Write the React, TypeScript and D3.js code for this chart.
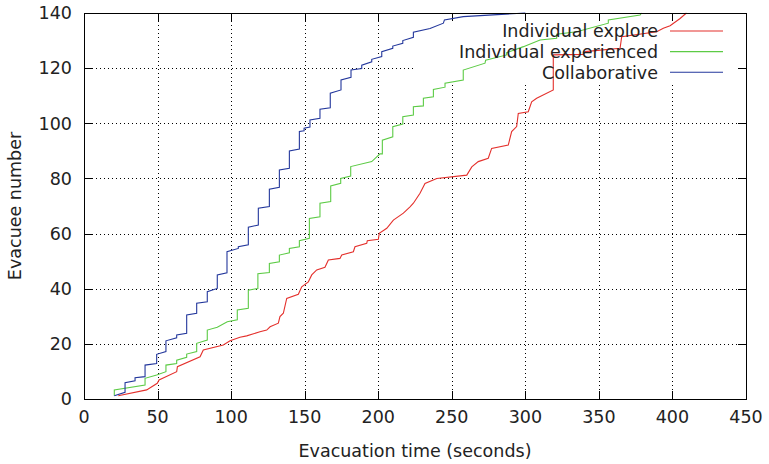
import React, { useEffect, useRef } from "react";
import * as d3 from "d3";

// [time (s), evacuees]
const exploreSeries: [number, number][] = [
  [23.3, 1.2], [42.6, 3.3], [49.8, 5.7], [51, 6.9], [63, 9.9], [63.5, 11.7],
  [78.9, 15.3], [81.1, 17.8], [94.7, 19.6], [99.3, 21.1], [106, 22.4],
  [110.6, 22.9], [119.6, 24.4], [124.2, 25], [126.5, 26.2], [132.1, 27.5],
  [133.2, 29.9], [135.5, 31.1], [137.8, 36.5], [145.7, 38], [148, 40.7],
  [152.5, 42.5], [154.8, 45], [158.2, 46.8], [163.8, 47.8], [166.1, 50.4],
  [174, 51], [175.2, 52.2], [183.1, 53.4], [184.2, 55.2], [192.2, 56.5],
  [192.6, 57.4], [200.1, 57.9], [200.7, 60.1], [205.8, 61.9], [210.3, 64.9],
  [217.1, 67.4], [221.6, 69.7], [223.9, 71], [228.4, 74.6], [231.8, 78.2],
  [239.8, 80], [260.2, 81.2], [263.6, 84.2], [268, 86.1], [274.8, 87.3],
  [277.1, 90.9], [288.4, 92.1], [290.7, 97], [294.1, 98.8], [295.2, 103.6],
  [302, 104.2], [304.3, 107.8], [307.7, 109.1], [319, 112.1], [319, 124.8],
  [339.5, 125], [340.6, 126], [364.4, 127.2], [365.5, 131.4], [389.3, 133.2],
  [393.8, 134.5], [398.4, 135.4], [405.2, 138], [409.5, 140],
];

const experiencedSeries: [number, number][] = [
  [20.6, 1.2], [20.6, 3.3], [41.5, 5.1], [41.5, 7.5], [49.4, 8.7], [55.7, 9.9],
  [55.7, 12.3], [63, 12.9], [63, 14.1], [69.8, 15.1], [69.8, 16.3], [76.6, 17.2],
  [76.6, 20.2], [83.8, 21.4], [83.8, 25], [90.6, 26], [97.4, 28], [104.2, 28.7],
  [104.2, 32.3], [111.7, 32.9], [111.7, 39.5], [118.2, 40.1], [118.2, 45.4],
  [126, 45.9], [126, 49.2], [132.8, 49.8], [132.8, 52.2], [139.6, 53],
  [139.6, 54.6], [146.4, 55.2], [146.4, 57.4], [153.2, 58.3], [153.2, 65.5],
  [160.4, 66.1], [160.4, 71], [167.7, 71.6], [167.7, 77.3], [174.5, 78.2],
  [174.5, 80], [181.3, 80.9], [181.3, 84.3], [195.6, 86.1], [201.2, 88.9],
  [202.8, 88.9], [202.8, 93.9], [209.9, 95.1], [209.9, 98.8], [216.7, 99.7],
  [216.7, 102.4], [223.9, 103], [223.9, 106], [230.7, 106.3], [230.7, 109.1],
  [237.5, 109.6], [237.5, 112.3], [245.4, 113.1], [245.4, 114.5], [257.8, 115.7],
  [257.8, 119.3], [272.6, 121.8], [273, 122.9], [287.3, 124.8], [287.3, 125.6],
  [298.7, 127.8], [310, 130.2], [321.3, 130.8], [321.3, 132.3], [334.9, 133.2],
  [356.4, 136.3], [356.4, 137.5], [378, 139.3], [379, 140],
];

const collaborativeSeries: [number, number][] = [
  [20.6, 1.2], [27.9, 2.4], [27.9, 5.9], [34.7, 6.6], [34.7, 7.7], [41.5, 8.1],
  [41.5, 12.3], [49.4, 12.9], [49.4, 16.2], [55.7, 17.2], [55.7, 21.1],
  [63, 22.2], [63, 23.2], [69.8, 23.8], [69.8, 30.5], [76.6, 31.1], [76.6, 34.7],
  [83.8, 35.3], [83.8, 38.9], [90.6, 40.1], [90.6, 45], [97.2, 45.8],
  [97.2, 53.4], [104.9, 54.6], [104.9, 55.2], [111.7, 55.9], [111.7, 62.3],
  [118.5, 63.1], [118.5, 69.2], [126, 69.8], [126, 76.1], [132.8, 76.8],
  [132.8, 83.1], [139.6, 83.7], [139.6, 90], [146.4, 90.7], [146.4, 97],
  [149.6, 97.3], [149.6, 98.2], [153.6, 98.6], [153.6, 101.2], [160.4, 101.8],
  [160.4, 105.1], [167.4, 105.6], [167.4, 110.9], [174.7, 112.1], [174.7, 115.7],
  [181.5, 116.7], [181.5, 119.3], [188.8, 119.9], [188.8, 121.1], [195.6, 122.3],
  [195.6, 123.2], [202.4, 124.2], [202.4, 126], [209.9, 127.2], [209.9, 128],
  [216.7, 129], [216.7, 130], [223.9, 131.2], [223.9, 133], [235.2, 134.4],
  [244.3, 136.3], [245, 137.5], [257.8, 138.7], [300, 140],
];

const seriesNames = ["Individual explore", "Individual experienced", "Collaborative"];
const seriesColors = ["#e4302c", "#5ccb45", "#23379c"];

const xTicks = [0, 50, 100, 150, 200, 250, 300, 350, 400, 450];
const yTicks = [0, 20, 40, 60, 80, 100, 120, 140];

const W = 769;
const H = 464;
const margin = { top: 13, right: 23, bottom: 65, left: 84 };
const font = "'DejaVu Sans', sans-serif";
const fs = 17.5;

export default function App() {
  const ref = useRef<SVGSVGElement>(null);

  useEffect(() => {
    const svg = d3.select(ref.current);
    svg.selectAll("*").remove();

    const x = d3.scaleLinear().domain([0, 450]).range([margin.left, W - margin.right]);
    const y = d3.scaleLinear().domain([0, 140]).range([H - margin.bottom, margin.top]);
    const x0 = x.range()[0], x1 = x.range()[1];
    const y0 = y.range()[0], y1 = y.range()[1];

    // key area hides the grid behind it
    const keyBox = { x: 413, y: y1, w: x1 - 413, h: 70 };
    const defs = svg.append("defs");
    const mask = defs.append("mask").attr("id", "gridMask");
    mask.append("rect").attr("x", 0).attr("y", 0).attr("width", W).attr("height", H).attr("fill", "white");
    mask.append("rect").attr("x", keyBox.x).attr("y", keyBox.y).attr("width", keyBox.w).attr("height", keyBox.h).attr("fill", "black");

    const grid = svg.append("g").attr("mask", "url(#gridMask)")
      .attr("stroke", "#000").attr("stroke-width", 1).attr("stroke-dasharray", "1,3");
    grid.selectAll(".gx").data(xTicks.slice(1, -1)).enter().append("line")
      .attr("x1", (d) => Math.round(x(d)) + 0.5).attr("x2", (d) => Math.round(x(d)) + 0.5)
      .attr("y1", y1).attr("y2", y0);
    grid.selectAll(".gy").data(yTicks.slice(1, -1)).enter().append("line")
      .attr("y1", (d) => Math.round(y(d)) + 0.5).attr("y2", (d) => Math.round(y(d)) + 0.5)
      .attr("x1", x0).attr("x2", x1);

    // tick marks on all four sides
    const tl = 8;
    const ticks = svg.append("g").attr("stroke", "#000").attr("stroke-width", 1);
    xTicks.forEach((d) => {
      const px = Math.round(x(d)) + 0.5;
      ticks.append("line").attr("x1", px).attr("x2", px).attr("y1", y0).attr("y2", y0 - tl);
      ticks.append("line").attr("x1", px).attr("x2", px).attr("y1", y1).attr("y2", y1 + tl);
    });
    yTicks.forEach((d) => {
      const py = Math.round(y(d)) + 0.5;
      ticks.append("line").attr("y1", py).attr("y2", py).attr("x1", x0).attr("x2", x0 + tl);
      ticks.append("line").attr("y1", py).attr("y2", py).attr("x1", x1).attr("x2", x1 - tl);
    });

    // tick labels
    svg.append("g").selectAll("text").data(xTicks).enter().append("text")
      .attr("x", (d) => x(d)).attr("y", y0 + 24)
      .attr("text-anchor", "middle").attr("font-family", font).attr("font-size", fs)
      .attr("fill", "#222").text((d) => d);
    svg.append("g").selectAll("text").data(yTicks).enter().append("text")
      .attr("x", x0 - 12).attr("y", (d) => y(d) + 6.3)
      .attr("text-anchor", "end").attr("font-family", font).attr("font-size", fs)
      .attr("fill", "#222").text((d) => d);

    // axis titles
    svg.append("text").attr("x", (x0 + x1) / 2).attr("y", 457)
      .attr("text-anchor", "middle").attr("font-family", font).attr("font-size", fs)
      .attr("fill", "#222").text("Evacuation time (seconds)");
    svg.append("text").attr("transform", `translate(21,${(y0 + y1) / 2}) rotate(-90)`)
      .attr("text-anchor", "middle").attr("font-family", font).attr("font-size", fs)
      .attr("fill", "#222").text("Evacuee number");

    // curves
    const line = d3.line<[number, number]>().x((d) => x(d[0])).y((d) => y(d[1]));
    const allSeries = [exploreSeries, experiencedSeries, collaborativeSeries];
    svg.append("g").selectAll("path").data(allSeries).enter().append("path")
      .attr("d", (d) => line(d))
      .attr("fill", "none")
      .attr("stroke", (_d, i) => seriesColors[i])
      .attr("stroke-width", 1.1);

    // key
    const key = svg.append("g");
    seriesNames.forEach((name, i) => {
      const ky = 31 + i * 20.6;
      key.append("text").attr("x", 658).attr("y", ky + 6.3)
        .attr("text-anchor", "end").attr("font-family", font).attr("font-size", fs)
        .attr("fill", "#222").text(name);
      key.append("line").attr("x1", 670).attr("x2", 723).attr("y1", ky).attr("y2", ky)
        .attr("stroke", seriesColors[i]).attr("stroke-width", 1.1);
    });

    // frame
    svg.append("rect").attr("x", x0 + 0.5).attr("y", y1 + 0.5)
      .attr("width", x1 - x0).attr("height", y0 - y1)
      .attr("fill", "none").attr("stroke", "#000").attr("stroke-width", 1);
  }, []);

  return (
    <svg
      ref={ref}
      width={W}
      height={H}
      style={{ position: "absolute", left: 0, top: 0, background: "#fff", display: "block" }}
    />
  );
}
